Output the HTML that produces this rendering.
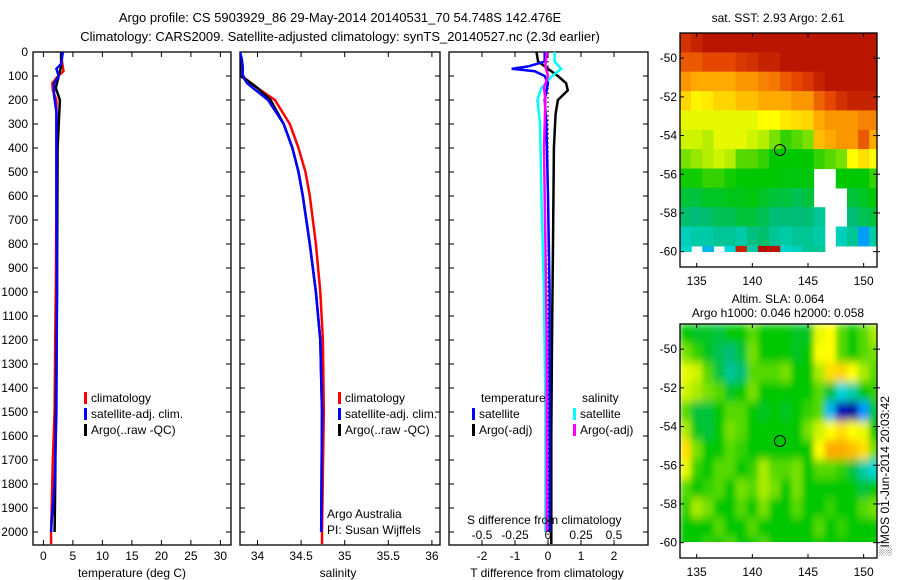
<!DOCTYPE html>
<html><head><meta charset="utf-8">
<style>
html,body{margin:0;padding:0;background:#fff;}
svg{display:block;font-family:"Liberation Sans",sans-serif;}
text{font-size:12px;fill:#000;}
</style></head>
<body>
<svg id="chart" width="900" height="580" viewBox="0 0 900 580" xmlns="http://www.w3.org/2000/svg">
<defs>
<clipPath id="cp1"><rect x="33" y="52" width="198" height="493"/></clipPath>
<clipPath id="cp2"><rect x="240" y="52" width="200" height="493"/></clipPath>
<clipPath id="cp3"><rect x="449" y="52" width="199" height="493"/></clipPath>
<clipPath id="cm1"><rect x="680" y="33" width="197" height="219"/></clipPath>
<clipPath id="cm2"><rect x="680" y="324" width="197" height="218"/></clipPath>
<filter id="blur" x="0" y="0" width="1" height="1"><feGaussianBlur stdDeviation="3 4.5" edgeMode="duplicate"/></filter>
</defs>
<rect width="900" height="580" fill="#fff"/>
<text x="340" y="22" text-anchor="middle" style="font-size:13px">Argo profile: CS 5903929_86 29-May-2014 20140531_70 54.748S 142.476E</text>
<text x="340" y="41" text-anchor="middle" style="font-size:13px">Climatology: CARS2009. Satellite-adjusted climatology: synTS_20140527.nc (2.3d earlier)</text>
<g id="g1"></g>
<g id="g2"></g>
<g id="g3"></g>
<g id="m1"></g>
<g id="m2"></g>
<text x="778" y="22" text-anchor="middle">sat. SST: 2.93 Argo: 2.61</text>
<text x="778" y="303" text-anchor="middle">Altim. SLA: 0.064</text>
<text x="778" y="317" text-anchor="middle">Argo h1000: 0.046 h2000: 0.058</text>
<text transform="translate(889,556) rotate(-90)">░IMOS 01-Jun-2014 20:03:42</text>
</svg>
<script>
// ---- profile data ----
const depthTicks=[0,100,200,300,400,500,600,700,800,900,1000,1100,1200,1300,1400,1500,1600,1700,1800,1900,2000];
const tempTicks=[0,5,10,15,20,25,30];
const salTicks=[34,34.5,35,35.5,36];
const salTickLabels=["34","34.5","35","35.5","36"];
const tdTicks=[-2,-1,0,1,2];
const sdTicks=[-0.5,-0.25,0,0.25,0.5];
const sdTickLabels=["-0.5","-0.25","0","0.25","0.5"];

const tClimDepth=[0,50,80,100,130,160,200,300,600,1000,1200,1500,1700,1900,2000,2050];
const tClim=[3.0,3.2,3.4,2.5,1.5,1.6,2.2,2.2,2.2,2.1,2.0,1.9,1.6,1.4,1.3,1.3];
const tSatDepth=[0,50,70,100,130,180,250,600,1000,1500,1800,1950,2000];
const tSat=[3.3,3.0,2.2,2.6,1.8,1.8,2.2,2.2,2.3,2.2,1.9,1.4,1.3];
const tArgoDepth=[0,60,100,150,200,250,400,1000,1500,1800,2000];
const tArgo=[3.0,3.0,2.6,2.1,2.8,2.7,2.4,2.3,2.1,2.0,1.9];

const sArgoDepth=[0,100,110,150,200,300,400,500,600,800,1000,1200,1500,2000];
const sArgo=[33.8,33.8,33.85,34.0,34.15,34.3,34.4,34.47,34.52,34.6,34.67,34.72,34.74,34.73];
const sSatDepth=[0,30,60,100,130,200,300,400,500,600,800,1000,1200,1500,2000];
const sSat=[33.8,33.82,33.83,33.83,33.88,34.12,34.3,34.4,34.47,34.52,34.6,34.67,34.72,34.74,34.73];
const sClimDepth=[100,150,200,300,400,500,600,800,1000,1200,1500,2000,2050];
const sClim=[33.82,34.0,34.2,34.37,34.47,34.55,34.6,34.67,34.72,34.75,34.76,34.74,34.74];

const dTSatDepth=[0,40,60,70,80,100,130,200,300,600,1000,1500,2000];
const dTSat=[-0.1,-0.1,-0.6,-1.1,-0.4,-0.1,0.0,-0.1,-0.05,0.0,0.05,0.05,0.05];
const dTArgoDepth=[0,40,70,100,130,160,200,258,400,800,1200,1600,2050];
const dTArgo=[-0.35,-0.3,0.0,0.3,0.55,0.6,0.3,0.23,0.18,0.15,0.12,0.1,0.1];
const dSSatDepth=[0,40,70,100,150,200,300,600,1000,1500,2000];
const dSSat=[0.05,0.05,0.1,0.03,-0.05,-0.08,-0.06,-0.05,-0.03,-0.02,-0.02];
const dSArgoDepth=[0,60,100,150,200,400,800,1200,1600,2000];
const dSArgo=[-0.01,-0.02,0.0,-0.03,-0.02,-0.03,-0.02,-0.01,-0.01,-0.01];

// ---- map data (colour index 0..1, null = no data) ----
const mapLon0=133.5;
const mapLat0=-48.7;
const sstGrid=[
[.93,.95,.97,.97,.97,.97,.97,.97,.97,.97,.97,.97,.97,.97,.97,.97,.97,.97],
[.88,.88,.9,.9,.9,.92,.93,.95,.95,.97,.97,.97,.97,.97,.97,.97,.97,.97],
[.82,.8,.8,.8,.8,.82,.82,.84,.85,.88,.9,.92,.95,.97,.97,.97,.97,.97],
[.76,.73,.74,.76,.76,.78,.78,.8,.8,.8,.82,.82,.87,.9,.93,.95,.95,.95],
[.7,.7,.7,.7,.7,.7,.7,.72,.72,.74,.75,.76,.8,.82,.82,.82,.84,.84],
[.68,.68,.66,.7,.7,.7,.68,.66,.62,.58,.6,.62,.78,.8,.82,.82,.88,.8],
[.62,.64,.66,.68,.66,.6,.6,.58,.55,.55,.55,.55,.58,.6,.62,.72,.75,.72],
[.56,.56,.58,.58,.56,.55,.55,.55,.55,.54,.54,.54,null,null,.55,.55,.55,.58],
[.5,.5,.52,.52,.53,.53,.54,.52,.5,.5,.48,.5,null,null,null,.5,.52,.55],
[.46,.45,.46,.48,.48,.5,.5,.48,.45,.45,.45,.45,.42,null,null,.45,.48,.5],
[.38,.4,.4,.42,.42,.4,.44,.46,.42,.4,.42,.42,.4,null,.38,.42,.26,.4],
[.36,null,.3,null,.35,.95,.4,.98,.97,.36,.38,.42,.42,null,null,null,null,null]];
const slaGrid=[
[.55,.52,.52,.5,.55,.55,.6,.55,.55,.55,.52,.52,.7,.72,.6,.55,.6,.65],
[.62,.58,.52,.48,.45,.5,.62,.55,.55,.55,.52,.55,.72,.72,.6,.55,.6,.62],
[.7,.68,.6,.5,.42,.45,.6,.6,.6,.62,.55,.55,.65,.75,.76,.72,.65,.6],
[.68,.65,.62,.6,.52,.55,.62,.55,.55,.55,.55,.55,.6,.5,.35,.4,.55,.58],
[.6,.5,.5,.55,.6,.6,.55,.52,.55,.52,.55,.58,.6,.3,.05,.03,.25,.5],
[.65,.52,.5,.55,.62,.6,.55,.55,.55,.55,.55,.62,.68,.72,.75,.72,.7,.55],
[.75,.62,.55,.55,.6,.58,.55,.55,.55,.55,.55,.55,.72,.8,.8,.78,.75,.62],
[.7,.58,.55,.6,.6,.55,.58,.65,.6,.6,.62,.55,.6,.6,.58,.5,.4,.35],
[.6,.55,.58,.6,.55,.62,.6,.65,.62,.55,.62,.55,.55,.55,.55,.55,.5,.55],
[.58,.65,.62,.55,.55,.6,.55,.62,.55,.55,.6,.55,.55,.58,.55,.55,.6,.62],
[.55,.55,.55,.6,.55,.55,.6,.55,.55,.55,.55,.55,.6,.55,.58,.55,.55,.55],
[.55,.55,.58,.55,.6,.55,.55,.6,.55,.55,.55,.55,.55,.55,.55,.55,.55,.55]];
const lonTicks=[135,140,145,150];
const latTicks=[-50,-52,-54,-56,-58,-60];
const argoLon=142.476;
const argoLat=-54.748;

const NS="http://www.w3.org/2000/svg";
function mk(parent,tag,attrs,txt){const e=document.createElementNS(NS,tag);for(const k in attrs)e.setAttribute(k,attrs[k]);if(txt!==undefined)e.textContent=txt;parent.appendChild(e);return e;}
const yD=d=>52+d*0.24;
function panel(g,x0,x1,xs,ticks,labels,clip){
  mk(g,'rect',{x:x0,y:52,width:x1-x0,height:493,fill:'none',stroke:'#000','stroke-width':1.3});
  depthTicks.forEach(d=>{const y=yD(d);mk(g,'line',{x1:x0,x2:x0+5,y1:y,y2:y,stroke:'#000'});mk(g,'line',{x1:x1-5,x2:x1,y1:y,y2:y,stroke:'#000'});});
  ticks.forEach((t,i)=>{const x=xs(t);mk(g,'line',{x1:x,x2:x,y1:52,y2:57,stroke:'#000'});mk(g,'line',{x1:x,x2:x,y1:540,y2:545,stroke:'#000'});
    const lt=mk(g,'text',{x:x,y:560,'text-anchor':'middle'},labels[i]);
    
    });
}
function line(g,xs,depth,vals,color,clip,w){
  const pts=depth.map((d,i)=>xs(vals[i]).toFixed(1)+','+yD(d).toFixed(1)).join(' ');
  const p=mk(g,'polyline',{points:pts,fill:'none',stroke:color,'stroke-width':w||2.5,'clip-path':'url(#'+clip+')'});
  return p;
}
function legend(g,x,y,color,label){
  mk(g,'rect',{x:x,y:y-10,width:3,height:12,fill:color});
  const t=mk(g,'text',{x:x+7,y:y},label);
  
  
}
// panel 1
const g1=document.getElementById('g1');
const xT=v=>43.4+v*5.9;
panel(g1,33,231,xT,tempTicks,tempTicks.map(String),'cp1');
depthTicks.forEach(d=>{const t=mk(g1,'text',{x:28,y:yD(d)+4,'text-anchor':'end'},String(d));
  
  });
let l;
l=line(g1,xT,tClimDepth,tClim,'#f00','cp1');
l=line(g1,xT,tArgoDepth,tArgo,'#000','cp1');
l=line(g1,xT,tSatDepth,tSat,'#00f','cp1');
legend(g1,84,402,'#f00','climatology');legend(g1,84,418,'#00f','satellite-adj. clim.');legend(g1,84,434,'#000','Argo(..raw -QC)');
mk(g1,'text',{x:132,y:577,'text-anchor':'middle'},'temperature (deg C)');
// panel 2
const g2=document.getElementById('g2');
const xS=v=>257.5+(v-34)*87.2;
panel(g2,240,440,xS,salTicks,salTickLabels,'cp2');
l=line(g2,xS,sClimDepth,sClim,'#f00','cp2');
l=line(g2,xS,sArgoDepth,sArgo,'#000','cp2');
l=line(g2,xS,sSatDepth,sSat,'#00f','cp2');
legend(g2,338,402,'#f00','climatology');legend(g2,338,418,'#00f','satellite-adj. clim.');legend(g2,338,434,'#000','Argo(..raw -QC)');
mk(g2,'text',{x:327,y:518},'Argo Australia');
mk(g2,'text',{x:327,y:534},'PI: Susan Wijffels');
mk(g2,'text',{x:338,y:577,'text-anchor':'middle'},'salinity');
// panel 3
const g3=document.getElementById('g3');
const xDT=v=>548+v*33;
const xDS=v=>548+v*132;
panel(g3,449,648,xDT,tdTicks,tdTicks.map(String),'cp3');
mk(g3,'line',{x1:548,x2:548,y1:52,y2:545,stroke:'#000','stroke-dasharray':'1.5,3','stroke-width':1.2});
l=line(g3,xDT,dTArgoDepth,dTArgo,'#000','cp3');
l=line(g3,xDS,dSSatDepth,dSSat,'#0ff','cp3');
l=line(g3,xDT,dTSatDepth,dTSat,'#00f','cp3');
l=line(g3,xDS,dSArgoDepth,dSArgo,'#f0f','cp3');
mk(g3,'text',{x:481,y:402},'temperature');
legend(g3,472,418,'#00f','satellite');legend(g3,472,434,'#000','Argo(-adj)');
mk(g3,'text',{x:582,y:402},'salinity');
legend(g3,573,418,'#0ff','satellite');legend(g3,573,434,'#f0f','Argo(-adj)');
mk(g3,'text',{x:467,y:524},'S difference from climatology');
sdTicks.forEach((t,i)=>{mk(g3,'text',{x:xDS(t),y:539,'text-anchor':'middle'},sdTickLabels[i]);});
mk(g3,'text',{x:547,y:577,'text-anchor':'middle'},'T difference from climatology');

// maps
const stops=[[0,[0,0,130]],[0.12,[0,0,255]],[0.25,[0,150,255]],[0.35,[0,215,215]],[0.45,[0,190,120]],[0.55,[0,200,0]],[0.65,[170,235,0]],[0.72,[255,255,0]],[0.8,[255,170,0]],[0.9,[230,70,0]],[1,[165,0,0]]];
function cmap(v){for(let i=1;i<stops.length;i++){if(v<=stops[i][0]){const a=stops[i-1],b=stops[i],f=(v-a[0])/(b[0]-a[0]);return 'rgb('+a[1].map((c,k)=>Math.round(c+(b[1][k]-c)*f)).join(',')+')';}}return 'rgb(165,0,0)';}
function drawMap(id,grid,top,clip,blur){
  const g=document.getElementById(id);
  const pxLon=11.13,pxLat=19.35;
  const xL=lon=>680+(lon-mapLon0)*pxLon;
  const yL=lat=>top+(mapLat0-lat)*pxLat;
  const cg=mk(g,'g',{'clip-path':'url(#'+clip+')'});
  const inner=mk(cg,'g',blur?{filter:'url(#blur)'}:{});
  grid.forEach((row,r)=>row.forEach((v,c)=>{
    if(v===null)return;
    const cell=mk(inner,'rect',{x:xL(mapLon0+c).toFixed(1),y:yL(mapLat0-r).toFixed(1),width:pxLon+0.6,height:pxLat+0.6,fill:cmap(v)});
    
    
  }));
  mk(g,'rect',{x:680,y:top,width:197,height:234,fill:'none',stroke:'#000','stroke-width':1.3});
  lonTicks.forEach(t=>{const x=xL(t);mk(g,'line',{x1:x,x2:x,y1:top,y2:top+4,stroke:'#000'});mk(g,'line',{x1:x,x2:x,y1:top+230,y2:top+234,stroke:'#000'});
    mk(g,'text',{x:x,y:top+252,'text-anchor':'middle'},String(t));});
  latTicks.forEach(t=>{const y=yL(t);mk(g,'line',{x1:680,x2:684,y1:y,y2:y,stroke:'#000'});mk(g,'line',{x1:873,x2:880,y1:y,y2:y,stroke:'#000'});
    mk(g,'text',{x:677,y:y+4,'text-anchor':'end'},String(t));});
  const m=mk(g,'circle',{cx:xL(argoLon),cy:yL(argoLat),r:5.5,fill:'none',stroke:'#000','stroke-width':1});
  
  
}
drawMap('m1',sstGrid,33,'cm1',false);
drawMap('m2',slaGrid,324,'cm2',true);
</script>
</body></html>
